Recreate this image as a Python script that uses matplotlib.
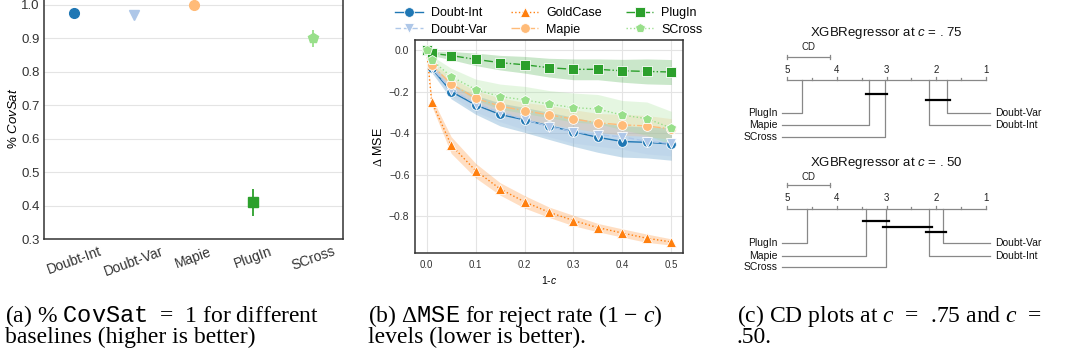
import numpy as np
import matplotlib
matplotlib.use('Agg')
import matplotlib.pyplot as plt

plt.rcParams['font.family'] = ['Liberation Sans', 'DejaVu Sans']
plt.rcParams['mathtext.fontset'] = 'custom'
plt.rcParams['mathtext.rm'] = 'Liberation Serif'
plt.rcParams['mathtext.it'] = 'Liberation Serif:italic'
plt.rcParams['mathtext.tt'] = 'Liberation Mono'
plt.rcParams['mathtext.sf'] = 'Liberation Sans:italic'
plt.rcParams['axes.unicode_minus'] = True

# ---------------- data ----------------
# Panel (a)
methods_a = ['Doubt-Int', 'Doubt-Var', 'Mapie', 'PlugIn', 'SCross']
covsat = [0.976, 0.970, 1.000, 0.410, 0.900]
covsat_err = [0.008, 0.004, 0.004, 0.040, 0.025]

# Panel (b)
reject_rate = [0.0, 0.01, 0.05, 0.10, 0.15, 0.20, 0.25, 0.30, 0.35, 0.40, 0.45, 0.50]
series_b = ['Doubt-Int', 'Doubt-Var', 'GoldCase', 'Mapie', 'PlugIn', 'SCross']
dmse_doubt_int = [0.0, -0.088, -0.200, -0.264, -0.310, -0.336, -0.365, -0.393, -0.420, -0.440, -0.444, -0.452]
dmse_doubt_var = [0.0, -0.085, -0.190, -0.258, -0.300, -0.333, -0.368, -0.393, -0.408, -0.417, -0.440, -0.449]
dmse_goldcase = [0.0, -0.248, -0.457, -0.580, -0.668, -0.730, -0.780, -0.820, -0.854, -0.880, -0.905, -0.923]
dmse_mapie = [0.0, -0.072, -0.163, -0.232, -0.270, -0.292, -0.312, -0.332, -0.350, -0.360, -0.365, -0.380]
dmse_plugin = [0.0, -0.016, -0.027, -0.045, -0.061, -0.071, -0.085, -0.093, -0.093, -0.100, -0.103, -0.106]
dmse_scross = [0.0, -0.048, -0.128, -0.190, -0.224, -0.240, -0.260, -0.277, -0.284, -0.313, -0.330, -0.375]
sd_doubt_int = [0.0, 0.020, 0.035, 0.045, 0.055, 0.060, 0.065, 0.070, 0.072, 0.075, 0.075, 0.078]
sd_doubt_var = [0.0, 0.020, 0.030, 0.040, 0.045, 0.050, 0.050, 0.055, 0.055, 0.060, 0.060, 0.060]
sd_goldcase = [0.0, 0.020, 0.040, 0.035, 0.030, 0.030, 0.025, 0.025, 0.020, 0.020, 0.020, 0.015]
sd_mapie = [0.0, 0.015, 0.030, 0.035, 0.040, 0.040, 0.045, 0.045, 0.045, 0.050, 0.050, 0.050]
sd_plugin = [0.0, 0.010, 0.020, 0.030, 0.035, 0.040, 0.045, 0.050, 0.050, 0.055, 0.060, 0.060]
sd_scross = [0.0, 0.020, 0.040, 0.050, 0.060, 0.065, 0.065, 0.070, 0.070, 0.070, 0.080, 0.080]

# Panel (c): average ranks
methods_c = ['Doubt-Int', 'Doubt-Var', 'Mapie', 'PlugIn', 'SCross']
ranks_c75 = [2.15, 1.79, 3.35, 4.69, 3.04]
ranks_c50 = [2.14, 1.87, 3.42, 4.59, 3.01]
cliques_c75 = [('Mapie', 'SCross'), ('Doubt-Int', 'Doubt-Var')]
cliques_c50 = [('Mapie', 'SCross'), ('SCross', 'Doubt-Int'), ('Doubt-Int', 'Doubt-Var')]
cd_value = 0.86
cd_titles = ['XGBRegressor at $\\mathsf{c}$ = . 75', 'XGBRegressor at $\\mathsf{c}$ = . 50']

# ---------------- style ----------------
colors = {'Doubt-Int': '#1f77b4', 'Doubt-Var': '#aec7e8', 'GoldCase': '#ff7f0e',
          'Mapie': '#ffbb78', 'PlugIn': '#2ca02c', 'SCross': '#98df8a'}
markers = {'Doubt-Int': 'o', 'Doubt-Var': 'v', 'GoldCase': '^',
           'Mapie': 'o', 'PlugIn': 's', 'SCross': 'p'}
lstyles = {'Doubt-Int': '-', 'Doubt-Var': (0, (4, 2)), 'GoldCase': ':',
           'Mapie': '-.', 'PlugIn': '-.', 'SCross': ':'}
grid_c = '#e4e4e4'
spine_c = '#333333'

W, H = 1065, 356
fig = plt.figure(figsize=(W / 100, H / 100), dpi=100)

def px_axes(l, t, r, b):
    return fig.add_axes([l / W, (H - b) / H, (r - l) / W, (b - t) / H])

def style_axes(ax):
    ax.set_facecolor('white')
    ax.grid(True, color=grid_c, lw=0.8)
    ax.set_axisbelow(True)
    for s in ax.spines.values():
        s.set_color(spine_c)
        s.set_linewidth(1.1)
    ax.tick_params(length=0, colors='#333333')

# ---------------- panel a ----------------
axa = px_axes(44, -2, 343, 239)
style_axes(axa)
axa.xaxis.grid(False)
xa = np.arange(len(methods_a))
for i, m in enumerate(methods_a):
    axa.errorbar(xa[i], covsat[i], yerr=covsat_err[i], fmt=markers[m], color=colors[m],
                 ms=7, mec=colors[m], elinewidth=1.3, capsize=0)
axa.set_xlim(-0.5, 4.5)
axa.set_ylim(0.3, 1.02)
axa.set_yticks([0.3, 0.4, 0.5, 0.6, 0.7, 0.8, 0.9, 1.0])
axa.set_xticks(xa)
axa.set_xticklabels(methods_a, rotation=20, fontsize=10)
axa.tick_params(axis='y', labelsize=9.5, pad=3)
axa.tick_params(axis='x', pad=4)
axa.set_ylabel('% $\\mathsf{CovSat}$', fontsize=9.5, labelpad=1)

# ---------------- panel b ----------------
axb = px_axes(415, 40, 683, 253)
style_axes(axb)
vals_b = {'Doubt-Int': dmse_doubt_int, 'Doubt-Var': dmse_doubt_var, 'GoldCase': dmse_goldcase,
          'Mapie': dmse_mapie, 'PlugIn': dmse_plugin, 'SCross': dmse_scross}
sds_b = {'Doubt-Int': sd_doubt_int, 'Doubt-Var': sd_doubt_var, 'GoldCase': sd_goldcase,
         'Mapie': sd_mapie, 'PlugIn': sd_plugin, 'SCross': sd_scross}
xr = np.array(reject_rate)
for m in series_b:
    v = np.array(vals_b[m]); s = np.array(sds_b[m])
    axb.fill_between(xr, v - s, v + s, color=colors[m], alpha=0.25, lw=0)
for m in series_b:
    axb.plot(xr, vals_b[m], color=colors[m], ls=lstyles[m], lw=1.0, marker=markers[m],
             ms=7, mec='white', mew=0.6, label=m)
axb.set_xlim(-0.024, 0.524)
axb.set_ylim(-0.976, 0.048)
axb.set_xticks([0.0, 0.1, 0.2, 0.3, 0.4, 0.5])
axb.set_yticks([-0.8, -0.6, -0.4, -0.2, 0.0])
axb.tick_params(axis='x', labelsize=7, pad=5)
axb.tick_params(axis='y', labelsize=7.5, pad=4)
axb.set_xlabel('1-$\\mathsf{c}$', fontsize=7.5, labelpad=3)
axb.set_ylabel('$\\Delta$ MSE', fontsize=9, labelpad=3)
axb.legend(ncol=3, loc='center', bbox_to_anchor=(549 / W, 1 - 21.5 / H),
           bbox_transform=fig.transFigure, frameon=False, fontsize=9,
           handlelength=2.2, handletextpad=0.65, columnspacing=1.9, labelspacing=0.36,
           borderaxespad=0, borderpad=0)

# ---------------- panel c ----------------
axc = px_axes(720, 0, 1065, 290)
r5x, r1x = 787.0, 986.0
ppr = (r1x - r5x) / 4.0
axc.set_xlim(5 + (r5x - 720) / ppr, 1 - (1065 - r1x) / ppr)
axc.set_ylim(290, 0)
axc.axis('off')
gray = '#888888'

layouts = [
    dict(title=33, cdlab=47, cdbar=57, ticklab=70, axis=80, rows=[112.7, 125.0, 136.7],
         clique_y=[94.0, 100.0]),
    dict(title=163, cdlab=177, cdbar=185, ticklab=198, axis=209.3, rows=[242.7, 255.7, 267.3],
         clique_y=[220.7, 226.7, 232.3]),
]
rank_sets = [ranks_c75, ranks_c50]
clique_sets = [cliques_c75, cliques_c50]

for L, ranks, cliques, title in zip(layouts, rank_sets, clique_sets, cd_titles):
    rk = dict(zip(methods_c, ranks))
    axc.text(3.0, L['title'], title, ha='center', va='center', fontsize=9.5, color='#111111')
    # CD bar
    axc.plot([5, 5 - cd_value], [L['cdbar'], L['cdbar']], color=gray, lw=0.9)
    for xx in (5, 5 - cd_value):
        axc.plot([xx, xx], [L['cdbar'] - 2, L['cdbar'] + 2], color=gray, lw=0.9)
    axc.text(5 - cd_value / 2, L['cdlab'], 'CD', ha='center', va='center', fontsize=7, color='#222222')
    # axis
    axc.plot([5, 1], [L['axis'], L['axis']], color=gray, lw=0.9)
    for t in np.arange(1, 5.01, 0.5):
        tl = 3.5 if t == int(t) else 2
        axc.plot([t, t], [L['axis'] - tl, L['axis']], color=gray, lw=0.9)
    for t in range(1, 6):
        axc.text(t, L['ticklab'], str(t), ha='center', va='center', fontsize=7, color='#222222')
    # method lines
    order = sorted(methods_c, key=lambda m: -rk[m])
    nleft = (len(order) + 1) // 2
    left = order[:nleft]
    right = sorted(order[nleft:], key=lambda m: rk[m])
    lx_end = 5 + 5.3 / ppr
    rx_end = 1 - 4.0 / ppr
    for j, m in enumerate(left):
        y = L['rows'][j]
        axc.plot([rk[m], rk[m], lx_end], [L['axis'], y, y], color=gray, lw=0.9)
        axc.text(lx_end + 4.5 / ppr, y, m, ha='right', va='center', fontsize=7.5, color='#111111')
    for j, m in enumerate(right):
        y = L['rows'][j]
        axc.plot([rk[m], rk[m], rx_end], [L['axis'], y, y], color=gray, lw=0.9)
        axc.text(rx_end - 5.5 / ppr, y, m, ha='left', va='center', fontsize=7.5, color='#111111')
    # cliques
    for (a, b), y in zip(cliques, L['clique_y']):
        lo, hi = sorted([rk[a], rk[b]])
        axc.plot([hi + 0.06, lo - 0.06], [y, y], color='black', lw=1.6)

# ---------------- captions ----------------
sp = '\u2002'
cap_kw = dict(fontsize=17, family='Liberation Serif', va='baseline', ha='left', color='black')
fig.text(5 / W, (H - 321.7) / H, '(a) % $\\mathtt{CovSat}$' + sp + '=' + sp + '1 for different', **cap_kw)
fig.text(5 / W, (H - 343) / H, 'baselines (higher is better)', **cap_kw)
fig.text(368 / W, (H - 321.7) / H, '(b) $\\Delta\\mathtt{MSE}$ for reject rate (1 \u2212 $c$)', **cap_kw)
fig.text(368 / W, (H - 343) / H, 'levels (lower is better).', **cap_kw)
fig.text(737 / W, (H - 321.7) / H, '(c) CD plots at $c$' + sp + '=' + sp + '.75 and $c$' + sp + '=', **cap_kw)
fig.text(737 / W, (H - 343) / H, '.50.', **cap_kw)

fig.savefig('out.png', dpi=100)
